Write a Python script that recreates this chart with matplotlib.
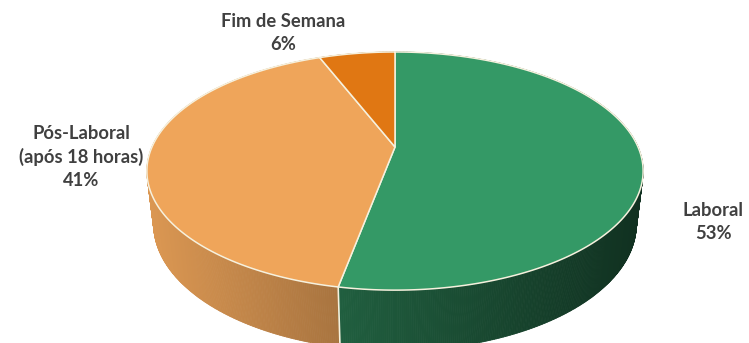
import numpy as np
import matplotlib.pyplot as plt
from matplotlib.collections import PolyCollection
from matplotlib.colors import to_rgb

plt.rcParams['font.family'] = ['Lato', 'DejaVu Sans']

# shares of the total, in clockwise order from 12 o'clock
labels = ['Laboral', 'Pós-Laboral\n(após 18 horas)', 'Fim de Semana']
shares = [53, 41, 6]
top_colors = ['#349966', '#EFA55A', '#E07713']
side_mult = [0.88, 1.0, 1.0]

# label anchor points (pixels)
label_pos = [(713, 222), (81, 157), (283, 33)]

# perspective camera for the 3d disc
W, H = 749, 343
cx, cy = 395, 147
F, D = 1062.0, 4.37
sphi = 0.47
cphi = np.sqrt(1 - sphi ** 2)
depth = 0.25


def project(theta, z=0.0):
    u, v = np.cos(theta), np.sin(theta)
    w = D + v * cphi - z * sphi
    sx = F * u / w
    sy = F * (v * sphi + z * cphi) / w
    return cx + sx, cy - sy


total = float(sum(shares))
cum = np.concatenate([[0], np.cumsum(shares)]) / total * 360.0
bounds = np.radians(90 - cum)  # clockwise from the top

fig = plt.figure(figsize=(W / 100, H / 100), dpi=100)
ax = fig.add_axes([0, 0, 1, 1])
ax.set_xlim(0, W)
ax.set_ylim(H, 0)
ax.axis('off')

# side wall, drawn back to front
n = 900
th = np.linspace(0, 2 * np.pi, n + 1)
facets, fcols, order = [], [], []
for a0, a1 in zip(th[:-1], th[1:]):
    mid = 0.5 * (a0 + a1)
    t = (90 - np.degrees(mid)) % 360
    k = min(np.searchsorted(cum, t, side='right') - 1, len(shares) - 1)
    x0, y0 = project(a0)
    x1, y1 = project(a1)
    x2, y2 = project(a1, -depth)
    x3, y3 = project(a0, -depth)
    xm = 0.5 * (x0 + x1)
    f = np.clip(0.92 - 0.56 * (xm - 145) / 500, 0.3, 1)
    col = np.clip(np.array(to_rgb(top_colors[k])) * f * side_mult[k], 0, 1)
    facets.append([(x0, y0), (x1, y1), (x2, y2), (x3, y3)])
    fcols.append(col)
    order.append(np.sin(mid))
idx = np.argsort(order)[::-1]
side = PolyCollection([facets[i] for i in idx], facecolors=[fcols[i] for i in idx],
                      edgecolors=[fcols[i] for i in idx], linewidths=0.6)
ax.add_collection(side)

edge = '#F6F1DE'
# slice boundaries running down the front of the wall
for b in bounds:
    if np.sin(b) < -0.2:
        xa, ya = project(b)
        xb, yb = project(b, -depth)
        ax.plot([xa, xb], [ya, yb], color=edge, lw=1.2, zorder=3)

# top face wedges
for k in range(len(shares)):
    a = np.linspace(bounds[k], bounds[k + 1], 200)
    xs, ys = project(a)
    poly = np.column_stack([np.concatenate([[cx], xs]), np.concatenate([[cy], ys])])
    ax.add_patch(plt.Polygon(poly, closed=True, facecolor=top_colors[k],
                             edgecolor=edge, lw=1.1, zorder=4))

for (lx, ly), lab, v in zip(label_pos, labels, shares):
    ax.text(lx, ly, f'{lab}\n{v}%', ha='center', va='center', fontsize=13.2,
            fontweight='bold', color='#404040', linespacing=1.38, zorder=5)

fig.savefig('out.png', dpi=100)
